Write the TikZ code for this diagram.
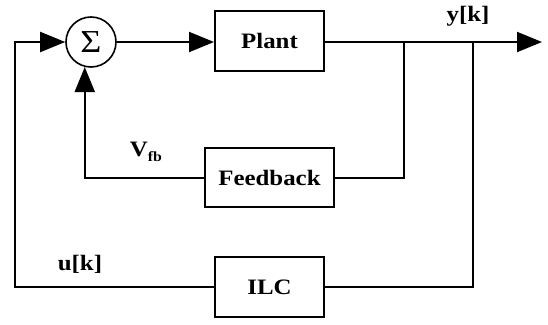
\documentclass[tikz,border=0pt]{standalone}
\usepackage{fontspec}
\setmainfont{Liberation Serif}[FakeStretch=1.13]
\usetikzlibrary{arrows.meta}
\begin{document}
\begin{tikzpicture}[x=1pt,y=-1pt,
  line width=2pt,
  blk/.style={draw, rectangle, inner sep=0pt, minimum width=109pt, minimum height=60pt, font=\fontsize{22}{22}\selectfont\bfseries},
  lbl/.style={inner sep=0pt, font=\fontsize{22}{22}\selectfont\bfseries},
  arr/.style={-{Triangle[length=25pt,width=20pt]}}]
\useasboundingbox (0,0) rectangle (548,324);
\node[draw, circle, minimum size=50pt, inner sep=0pt, line width=1.6pt, font=\fontsize{32}{32}\selectfont] (sum) at (91,42) {Σ};
\node[blk] (plant) at (269.5,41) {Plant};
\node[blk, minimum width=129pt, minimum height=59pt] (fb) at (269.5,177.5) {Feedback};
\node[blk] (ilc) at (269.5,287) {ILC};
\coordinate (out) at (542,42);
\coordinate (b1) at (404,42);
\coordinate (b2) at (473,42);
\coordinate (lc) at (15,42);
\draw[arr] (sum.east) -- (plant.west |- sum.east);
\draw[arr] (plant.east |- out) -- (out);
\draw (b1) |- (fb.east);
\draw[arr] (fb.west) -| (sum.-104);
\draw (b2) |- (ilc.east);
\draw[arr] (ilc.west) -| (lc) -- (sum.west);
\node[lbl] (yk) at (468,16) {y[k]};
\node[lbl] (uk) at (80,264) {u[k]};
\node[lbl] (vfb) at (146,152) {V\raisebox{-5pt}{\fontsize{14}{14}\selectfont fb}};
\end{tikzpicture}
\end{document}
